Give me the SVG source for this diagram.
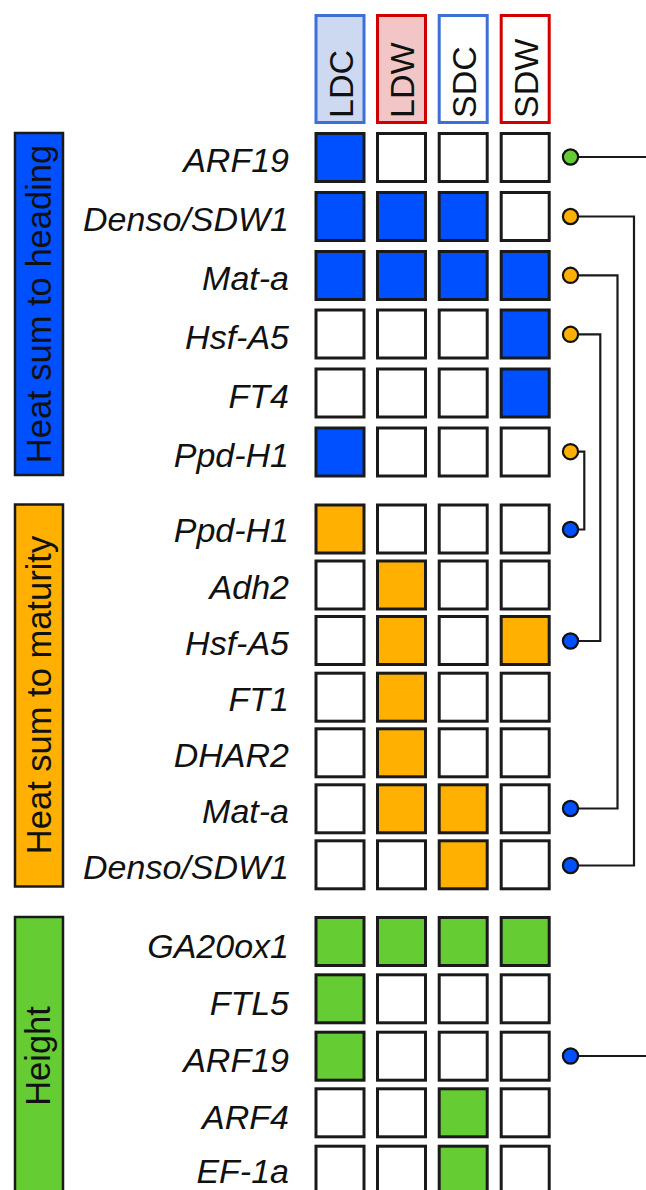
<svg xmlns="http://www.w3.org/2000/svg" width="646" height="1190" viewBox="0 0 646 1190">
<style>
.bg{fill:#ffffff}
.cell{stroke:#1a1a1a;stroke-width:3;fill:#ffffff}
.b{fill:#0050ff}
.o{fill:#ffb000}
.g{fill:#66cc33}
.lbl{font-family:"Liberation Sans",Arial,sans-serif;font-size:34px;font-style:italic;fill:#111;text-anchor:end}
.hdr{font-family:"Liberation Sans",Arial,sans-serif;font-size:34px;fill:#111;text-anchor:start}
.cat{font-family:"Liberation Sans",Arial,sans-serif;font-size:34.5px;fill:#111;text-anchor:middle}
.catbox{stroke:#1a1a1a;stroke-width:2.5}
.dot{stroke:#111;stroke-width:2.2}
.conn{fill:none;stroke:#1a1a1a;stroke-width:2.2}
</style>
<rect class="bg" x="0" y="0" width="646" height="1190"/>

<g id="headers">
<rect x="316" y="15.5" width="48" height="107" fill="#cdd9f1" stroke="#3d6fd6" stroke-width="3"/>
<rect x="377.5" y="15.5" width="48" height="107" fill="#f2c6c6" stroke="#d00000" stroke-width="3"/>
<rect x="439.2" y="15.5" width="48" height="107" fill="#ffffff" stroke="#3d6fd6" stroke-width="3"/>
<rect x="501.2" y="15.5" width="48" height="107" fill="#ffffff" stroke="#d00000" stroke-width="3"/>
<text class="hdr" transform="translate(352.5,118) rotate(-90)">LDC</text>
<text class="hdr" transform="translate(414,118) rotate(-90)">LDW</text>
<text class="hdr" transform="translate(475.7,118) rotate(-90)">SDC</text>
<text class="hdr" transform="translate(537.5,118) rotate(-90)">SDW</text>
</g>

<g id="cat-heading">
<rect class="catbox b" x="15" y="133" width="48" height="342"/>
<text class="cat" transform="translate(51,304) rotate(-90)">Heat sum to heading</text>
</g>
<g id="cat-maturity">
<rect class="catbox o" x="15" y="504.5" width="48" height="382"/>
<text class="cat" transform="translate(51,695) rotate(-90)">Heat sum to maturity</text>
</g>
<g id="cat-height">
<rect class="catbox g" x="15" y="917" width="48" height="290"/>
<text class="cat" transform="translate(50,1056) rotate(-90)">Height</text>
</g>

<g id="heading-rows">
<text class="lbl" x="289" y="172">ARF19</text>
<rect class="cell b" x="316" y="133.5" width="48" height="48"/>
<rect class="cell" x="377.5" y="133.5" width="48" height="48"/>
<rect class="cell" x="439.2" y="133.5" width="48" height="48"/>
<rect class="cell" x="501.2" y="133.5" width="48" height="48"/>

<text class="lbl" x="289" y="231">Denso/SDW1</text>
<rect class="cell b" x="316" y="192.5" width="48" height="48"/>
<rect class="cell b" x="377.5" y="192.5" width="48" height="48"/>
<rect class="cell b" x="439.2" y="192.5" width="48" height="48"/>
<rect class="cell" x="501.2" y="192.5" width="48" height="48"/>

<text class="lbl" x="289" y="290">Mat-a</text>
<rect class="cell b" x="316" y="251.5" width="48" height="48"/>
<rect class="cell b" x="377.5" y="251.5" width="48" height="48"/>
<rect class="cell b" x="439.2" y="251.5" width="48" height="48"/>
<rect class="cell b" x="501.2" y="251.5" width="48" height="48"/>

<text class="lbl" x="289" y="348.5">Hsf-A5</text>
<rect class="cell" x="316" y="310" width="48" height="48"/>
<rect class="cell" x="377.5" y="310" width="48" height="48"/>
<rect class="cell" x="439.2" y="310" width="48" height="48"/>
<rect class="cell b" x="501.2" y="310" width="48" height="48"/>

<text class="lbl" x="289" y="407.5">FT4</text>
<rect class="cell" x="316" y="369" width="48" height="48"/>
<rect class="cell" x="377.5" y="369" width="48" height="48"/>
<rect class="cell" x="439.2" y="369" width="48" height="48"/>
<rect class="cell b" x="501.2" y="369" width="48" height="48"/>

<text class="lbl" x="289" y="466.5">Ppd-H1</text>
<rect class="cell b" x="316" y="428" width="48" height="48"/>
<rect class="cell" x="377.5" y="428" width="48" height="48"/>
<rect class="cell" x="439.2" y="428" width="48" height="48"/>
<rect class="cell" x="501.2" y="428" width="48" height="48"/>
</g>

<g id="maturity-rows">
<text class="lbl" x="289" y="542">Ppd-H1</text>
<rect class="cell o" x="316" y="505" width="48" height="48"/>
<rect class="cell" x="377.5" y="505" width="48" height="48"/>
<rect class="cell" x="439.2" y="505" width="48" height="48"/>
<rect class="cell" x="501.2" y="505" width="48" height="48"/>

<text class="lbl" x="289" y="599">Adh2</text>
<rect class="cell" x="316" y="561" width="48" height="48"/>
<rect class="cell o" x="377.5" y="561" width="48" height="48"/>
<rect class="cell" x="439.2" y="561" width="48" height="48"/>
<rect class="cell" x="501.2" y="561" width="48" height="48"/>

<text class="lbl" x="289" y="654.5">Hsf-A5</text>
<rect class="cell" x="316" y="616.5" width="48" height="48"/>
<rect class="cell o" x="377.5" y="616.5" width="48" height="48"/>
<rect class="cell" x="439.2" y="616.5" width="48" height="48"/>
<rect class="cell o" x="501.2" y="616.5" width="48" height="48"/>

<text class="lbl" x="289" y="711">FT1</text>
<rect class="cell" x="316" y="673.2" width="48" height="48"/>
<rect class="cell o" x="377.5" y="673.2" width="48" height="48"/>
<rect class="cell" x="439.2" y="673.2" width="48" height="48"/>
<rect class="cell" x="501.2" y="673.2" width="48" height="48"/>

<text class="lbl" x="289" y="767">DHAR2</text>
<rect class="cell" x="316" y="728.8" width="48" height="48"/>
<rect class="cell o" x="377.5" y="728.8" width="48" height="48"/>
<rect class="cell" x="439.2" y="728.8" width="48" height="48"/>
<rect class="cell" x="501.2" y="728.8" width="48" height="48"/>

<text class="lbl" x="289" y="822.5">Mat-a</text>
<rect class="cell" x="316" y="784.8" width="48" height="48"/>
<rect class="cell o" x="377.5" y="784.8" width="48" height="48"/>
<rect class="cell o" x="439.2" y="784.8" width="48" height="48"/>
<rect class="cell" x="501.2" y="784.8" width="48" height="48"/>

<text class="lbl" x="289" y="878.5">Denso/SDW1</text>
<rect class="cell" x="316" y="840.8" width="48" height="48"/>
<rect class="cell" x="377.5" y="840.8" width="48" height="48"/>
<rect class="cell o" x="439.2" y="840.8" width="48" height="48"/>
<rect class="cell" x="501.2" y="840.8" width="48" height="48"/>
</g>

<g id="height-rows">
<text class="lbl" x="289" y="957.5">GA20ox1</text>
<rect class="cell g" x="316" y="917.5" width="48" height="48"/>
<rect class="cell g" x="377.5" y="917.5" width="48" height="48"/>
<rect class="cell g" x="439.2" y="917.5" width="48" height="48"/>
<rect class="cell g" x="501.2" y="917.5" width="48" height="48"/>

<text class="lbl" x="289" y="1015">FTL5</text>
<rect class="cell g" x="316" y="974.8" width="48" height="48"/>
<rect class="cell" x="377.5" y="974.8" width="48" height="48"/>
<rect class="cell" x="439.2" y="974.8" width="48" height="48"/>
<rect class="cell" x="501.2" y="974.8" width="48" height="48"/>

<text class="lbl" x="289" y="1071.8">ARF19</text>
<rect class="cell g" x="316" y="1032.2" width="48" height="48"/>
<rect class="cell" x="377.5" y="1032.2" width="48" height="48"/>
<rect class="cell" x="439.2" y="1032.2" width="48" height="48"/>
<rect class="cell" x="501.2" y="1032.2" width="48" height="48"/>

<text class="lbl" x="289" y="1128.5">ARF4</text>
<rect class="cell" x="316" y="1088.8" width="48" height="48"/>
<rect class="cell" x="377.5" y="1088.8" width="48" height="48"/>
<rect class="cell g" x="439.2" y="1088.8" width="48" height="48"/>
<rect class="cell" x="501.2" y="1088.8" width="48" height="48"/>

<text class="lbl" x="289" y="1183">EF-1a</text>
<rect class="cell" x="316" y="1146.2" width="48" height="48"/>
<rect class="cell" x="377.5" y="1146.2" width="48" height="48"/>
<rect class="cell g" x="439.2" y="1146.2" width="48" height="48"/>
<rect class="cell" x="501.2" y="1146.2" width="48" height="48"/>
</g>

<g id="connectors">
<path class="conn" d="M578 157 H646"/>
<path class="conn" d="M578 216.5 H634 V865.5 H578"/>
<path class="conn" d="M578 275.3 H617.5 V808.5 H578"/>
<path class="conn" d="M578 334.3 H600.3 V641 H578"/>
<path class="conn" d="M578 451.7 H584.3 V529.5 H578"/>
<path class="conn" d="M578 1056 H646"/>
</g>

<g id="markers">
<circle class="dot g" cx="570.5" cy="157" r="7.6"/>
<circle class="dot o" cx="570.5" cy="216.5" r="7.6"/>
<circle class="dot o" cx="570.5" cy="275.3" r="7.6"/>
<circle class="dot o" cx="570.5" cy="334.3" r="7.6"/>
<circle class="dot o" cx="570.5" cy="451.7" r="7.6"/>
<circle class="dot b" cx="570.5" cy="529.5" r="7.6"/>
<circle class="dot b" cx="570.5" cy="641" r="7.6"/>
<circle class="dot b" cx="570.5" cy="808.5" r="7.6"/>
<circle class="dot b" cx="570.5" cy="865.5" r="7.6"/>
<circle class="dot b" cx="570.5" cy="1056" r="7.6"/>
</g>
</svg>
